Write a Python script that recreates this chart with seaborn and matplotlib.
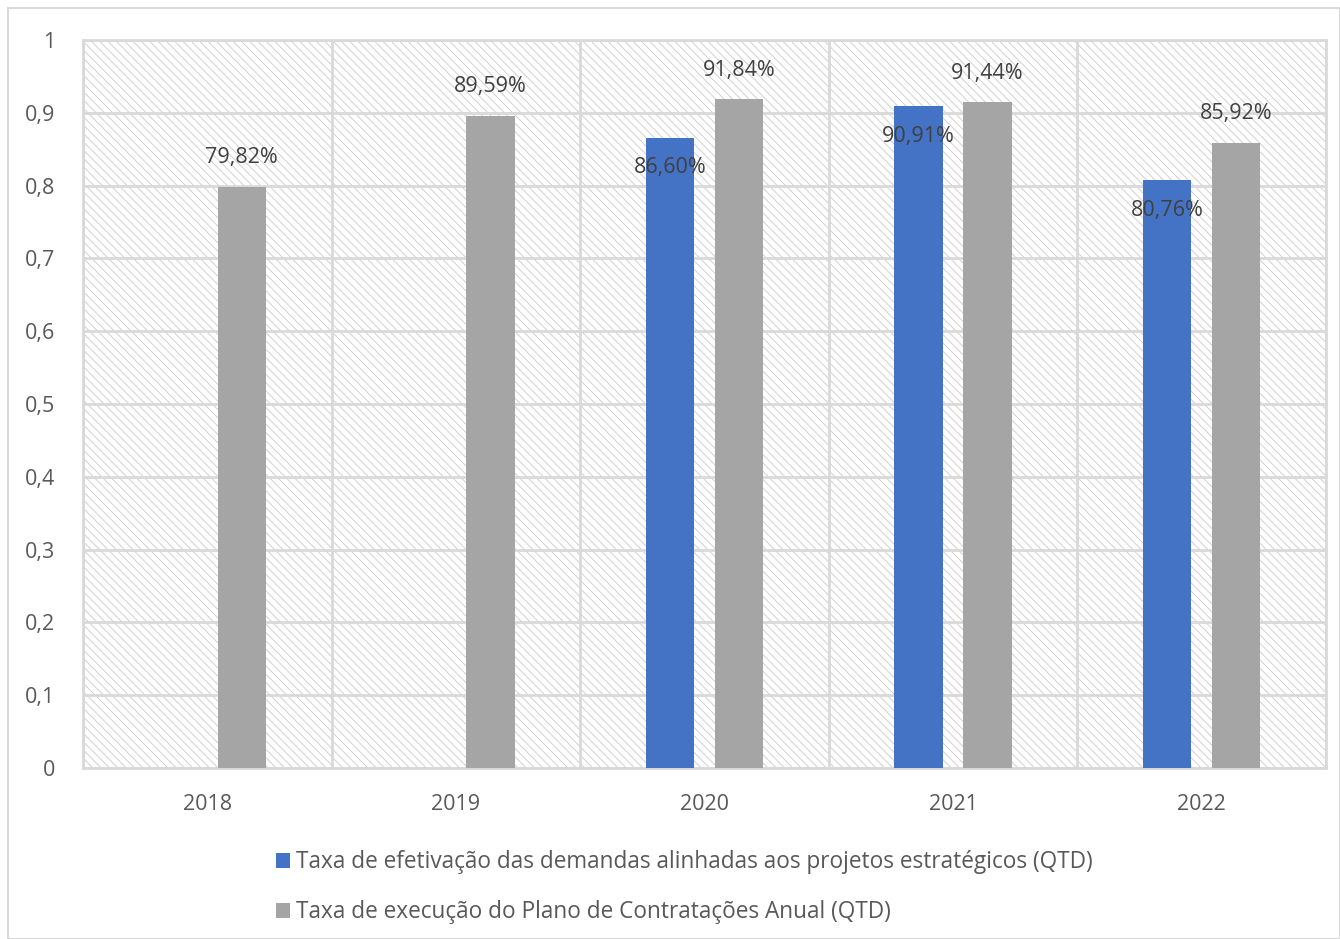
import numpy as np
import pandas as pd
import matplotlib
matplotlib.use("Agg")
import matplotlib.pyplot as plt
from matplotlib.patches import Rectangle, Patch
import seaborn as sns

years = ["2018", "2019", "2020", "2021", "2022"]
serie_efetivacao = [np.nan, np.nan, 0.8660, 0.9091, 0.8076]
serie_execucao = [0.7982, 0.8959, 0.9184, 0.9144, 0.8592]
series_names = [
    "Taxa de efetivação das demandas alinhadas aos projetos estratégicos (QTD)",
    "Taxa de execução do Plano de Contratações Anual (QTD)",
]
yticks = [0, 0.1, 0.2, 0.3, 0.4, 0.5, 0.6, 0.7, 0.8, 0.9, 1.0]
colors = ["#4472C4", "#A5A5A5"]

df = pd.DataFrame({
    "ano": years * 2,
    "serie": [series_names[0]] * 5 + [series_names[1]] * 5,
    "valor": serie_efetivacao + serie_execucao,
})

sns.set_style("white")
plt.rcParams["font.family"] = ["Open Sans", "DejaVu Sans"]
plt.rcParams["hatch.color"] = "#D0D0D0"
plt.rcParams["hatch.linewidth"] = 0.7

text_color = "#595959"
grid_color = "#D9D9D9"

fig = plt.figure(figsize=(13.4, 9.39), dpi=100)
ax = fig.add_axes([83 / 1340, 1 - 768 / 939, (1326 - 83) / 1340, (768 - 40) / 939])

# outer chart border
fig.patches.append(Rectangle((8 / 1340, 0), 1 - 8 / 1340, 1 - 8 / 939, transform=fig.transFigure,
                             fill=False, edgecolor="#D9D9D9", linewidth=1.5, zorder=0))

# hatched plot background
ax.add_patch(Rectangle((0, 0), 1, 1, transform=ax.transAxes, facecolor="white",
                       hatch="\\\\\\\\", edgecolor="#D0D0D0", linewidth=0, zorder=0))

sns.barplot(data=df, x="ano", y="valor", hue="serie", hue_order=series_names,
            palette=colors, width=0.556, gap=0.30, saturation=1, ax=ax,
            order=years, legend=False, zorder=3, linewidth=0, err_kws={"linewidth": 0})

ax.set_xlim(-0.5, 4.5)
ax.set_ylim(0, 1)
ax.set_yticks(yticks)
ax.set_yticklabels([("%g" % v).replace(".", ",") for v in yticks])
ax.set_xlabel("")
ax.set_ylabel("")
ax.tick_params(axis="both", length=0, labelsize=15.5, colors=text_color)
ax.tick_params(axis="y", pad=20)
ax.tick_params(axis="x", pad=19)

for y in yticks:
    ax.axhline(y, color=grid_color, linewidth=2, zorder=1)
for xb in np.arange(-0.5, 5, 1):
    ax.axvline(xb, color=grid_color, linewidth=2, zorder=1)
for s in ax.spines.values():
    s.set_color(grid_color)
    s.set_linewidth(2)

# data labels
for ci, cont in enumerate(ax.containers):
    for bar in cont:
        h = bar.get_height()
        if not np.isfinite(h) or h <= 0:
            continue
        xc = bar.get_x() + bar.get_width() / 2
        lbl = ("%.2f%%" % (h * 100)).replace(".", ",")
        dy = -30 if ci == 0 else 29
        ax.annotate(lbl, (xc, h), xytext=(0, dy), textcoords="offset pixels",
                    ha="center", va="center", fontsize=15.5, color="#404040", zorder=5)

handles = [Patch(facecolor=c, edgecolor="none") for c in colors]
fig.legend(handles, series_names, loc="upper left", bbox_to_anchor=(256 / 1340, 1 - 830 / 939),
           frameon=False, fontsize=16.3, labelcolor=text_color, handlelength=0.6,
           handleheight=0.6, handletextpad=0.25, labelspacing=1.15)

fig.savefig("out.png", dpi=100, facecolor="white")
